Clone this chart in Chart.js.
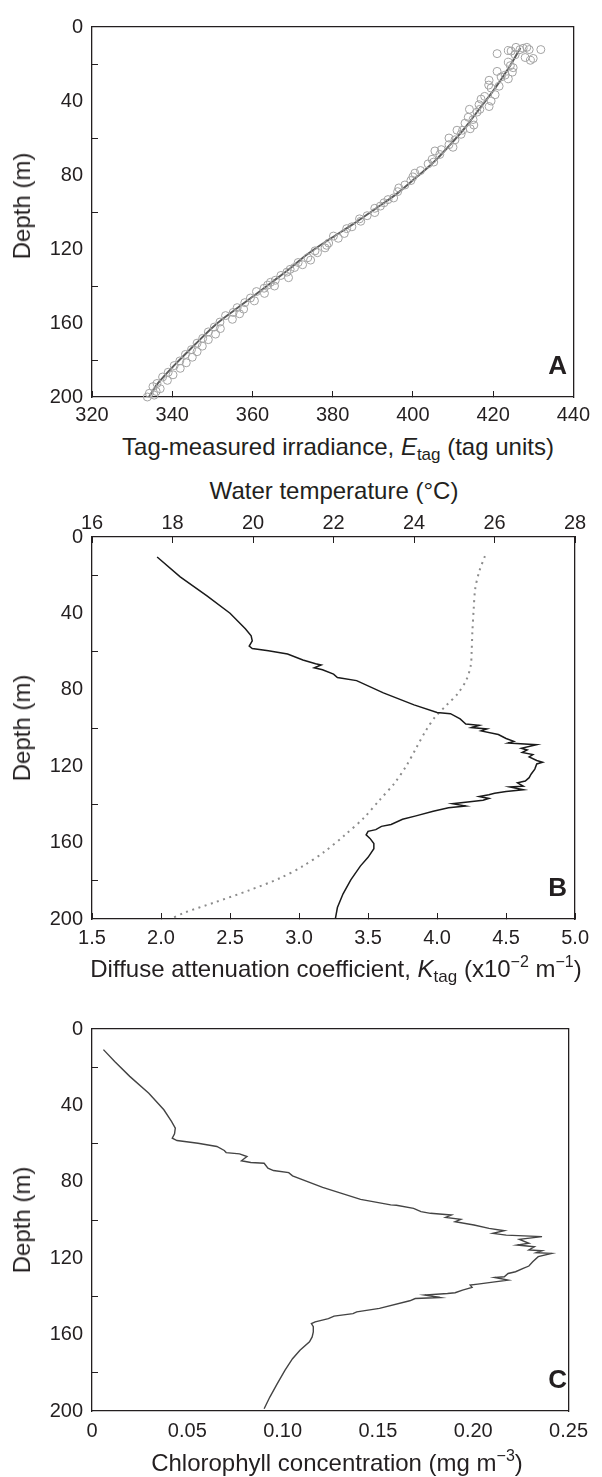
<!DOCTYPE html>
<html>
<head>
<meta charset="utf-8">
<script src="https://cdn.jsdelivr.net/npm/chart.js@4.4.0/dist/chart.umd.min.js"></script>
<style>
  body { margin: 0; background: #fff; }
  #wrap { position: relative; width: 602px; height: 1477px; font-family: "Liberation Sans", Arial, sans-serif; color: #231f20; }
  canvas { position: absolute; left: 0; }
  .ttl { position: absolute; white-space: nowrap; font-size: 24px; line-height: 24px; transform: translateX(-50%); }
  .ttl i { font-style: italic; }
  .sub { font-size: 17px; position: relative; top: 5px; }
  .sup { font-size: 16px; position: relative; top: -10px; }
  .dep { position: absolute; white-space: nowrap; font-size: 24px; line-height: 24px; transform: translate(-50%, -50%) rotate(-90deg); }
  .let { position: absolute; font-size: 26px; font-weight: bold; line-height: 26px; transform: translateX(-100%); }
</style>
</head>
<body>
<div id="wrap">
  <canvas id="chartA" width="602" height="430" style="top:0px"></canvas>
  <canvas id="chartB" width="602" height="455" style="top:505px"></canvas>
  <canvas id="chartC" width="602" height="450" style="top:1000px"></canvas>

  <div class="dep" style="left:22px; top:206px">Depth (m)</div>
  <div class="dep" style="left:22px; top:728px">Depth (m)</div>
  <div class="dep" style="left:22px; top:1220px">Depth (m)</div>

  <div class="ttl" style="left:338px; top:435px">Tag-measured irradiance, <i>E</i><span class="sub">tag</span> (tag units)</div>
  <div class="ttl" style="left:334px; top:479px">Water temperature (°C)</div>
  <div class="ttl" style="left:336px; top:957px">Diffuse attenuation coefficient, <i>K</i><span class="sub">tag</span> (x10<span class="sup">−2</span> m<span class="sup">−1</span>)</div>
  <div class="ttl" style="left:337px; top:1451px">Chlorophyll concentration (mg m<span class="sup">−3</span>)</div>

  <div class="let" style="left:567px; top:352px">A</div>
  <div class="let" style="left:567px; top:874px">B</div>
  <div class="let" style="left:567px; top:1366px">C</div>
</div>
<script>
// ---- panel A: tag irradiance vs depth ----
const obsDepth = [11, 11, 12.2, 12.2, 12.2, 12.7, 13, 11.5, 14.4, 16.5, 17, 18, 15, 19, 20.9, 22, 24, 24.4, 27, 28, 26,
  28.8, 31.4, 33, 32, 36.6, 37.5, 39, 40, 43, 42, 44.5, 44.5, 46, 48.8, 50, 53, 52, 55, 55.8, 55.8, 58, 61, 60, 63.6, 65,
  66.3, 68.9, 67, 71.5, 74, 73, 77.6, 79, 81, 83, 85.4, 87, 89, 92.4, 93.3, 95, 96.8, 98, 100.3, 102, 103.7, 105, 108, 109,
  111.6, 114.2, 113, 116.8, 118, 119.4, 122, 121, 124.7, 126, 127.3, 128.5, 130, 131, 132.5, 134.3, 135.5, 136.9, 138,
  139.5, 140, 141.2, 143, 144, 146.5, 148, 149, 151.7, 152.5, 154.3, 155, 156, 158, 159.5, 162.2, 163, 164.8, 166, 168.3,
  169, 170.9, 172.5, 174.4, 175.5, 177, 178.5, 180.5, 181.5, 183, 184.5, 186.6, 188, 189.2, 191, 192.7, 194.4, 195.5, 197,
  198, 199, 200];
const obsIrr = [425.7, 428.4, 426.7, 429, 431.9, 423.8, 424.5, 427.5, 421, 428, 430, 429.3, 425.5, 423.8, 424.3, 425, 421,
  424.8, 422, 423.8, 423, 419, 418.9, 419.5, 421.5, 420.5, 417.9, 417, 419.5, 419, 416.5, 416.7, 414.1, 416, 413.8, 415,
  415.2, 413, 414.3, 412.4, 411, 412, 410.5, 409, 409, 410, 407.1, 406.7, 405.5, 404.8, 403.8, 405.2, 401.9, 400.5, 400,
  399.5, 398, 396.5, 396.2, 395.2, 393.8, 392.8, 391.9, 390.5, 390.5, 388.6, 386.7, 387, 384.8, 383.5, 382.9, 381.4, 380.2,
  379, 378.5, 378.1, 376.2, 375.6, 373.8, 374.5, 371.4, 372.5, 370.5, 369.4, 368.6, 367.1, 369, 365.7, 364.5, 363.8, 365.5,
  362.9, 361, 363, 359.5, 360.5, 358.1, 356.2, 357.8, 355.2, 356.8, 353.3, 355, 351.9, 350.5, 352, 349, 350.8, 347.6, 349,
  346.2, 347.5, 344.8, 346.2, 343.3, 345, 341.9, 343.5, 340.5, 342, 339, 340.2, 337.6, 338.8, 336.2, 335.2, 337, 336,
  334.3, 335.5, 333.8];
const fitDepth = [11.3, 21.8, 34, 44.5, 55, 63.6, 72.4, 81, 89.8, 98.5, 107, 115, 123, 130.8, 136.9, 143.9, 152.6, 161.3,
  171.8, 182.2, 192.7, 200];
const fitIrr = [426.8, 424, 420.2, 416.5, 412.8, 409.3, 405.5, 401, 396.2, 390.5, 384.8, 379, 373.6, 369.2, 365.5, 361.2,
  355.8, 350.6, 345.6, 340.8, 336.4, 334.2];
const irrTicks = [320, 340, 360, 380, 400, 420, 440];
const irrLabels = ['320', '340', '360', '380', '400', '420', '440'];

// ---- panel B: attenuation coefficient and temperature ----
const kDepth = [10.5, 20.9, 30.8, 39.9, 48, 51.7, 54.4, 57.1, 58.4, 59.5, 61.3, 64.4, 66.4, 67, 68.5, 69.5, 71.8, 73.6,
  75.2, 81.6, 87.9, 91.9, 92.5, 95.2, 97.9, 98.6, 99.8, 100.5, 101.5, 103.4, 105.5, 107, 107.9, 108.8, 110.6, 111.5, 112.8,
  113.9, 115.1, 117, 117.9, 118.8, 121.5, 124.2, 126, 127.8, 128.7, 130.5, 130.9, 132.3, 133.2, 134.2, 135, 135.9, 136.9,
  137.8, 138.7, 139.6, 140.9, 141.8, 143.6, 146, 147.8, 150.5, 151.5, 153.2, 154.1, 155.9, 157.8, 160.5, 163.2, 167.7,
  172.3, 179.5, 186.8, 194, 199.5];
const kTag = [1.972, 2.139, 2.333, 2.5, 2.611, 2.653, 2.661, 2.639, 2.661, 2.778, 2.917, 3.028, 3.12, 3.16, 3.11, 3.17,
  3.25, 3.278, 3.417, 3.611, 3.833, 4.0, 4.097, 4.167, 4.208, 4.306, 4.25, 4.361, 4.319, 4.444, 4.5, 4.556, 4.514, 4.72,
  4.611, 4.653, 4.617, 4.694, 4.667, 4.722, 4.764, 4.722, 4.708, 4.681, 4.667, 4.639, 4.583, 4.625, 4.528, 4.625, 4.5,
  4.417, 4.375, 4.306, 4.375, 4.333, 4.222, 4.111, 4.208, 4.083, 3.972, 3.847, 3.75, 3.667, 3.597, 3.556, 3.5, 3.486,
  3.514, 3.542, 3.542, 3.5, 3.444, 3.375, 3.319, 3.278, 3.264];
const tempDepth = [10, 18, 27, 38, 49, 60, 67, 74.3, 81.6, 88, 94.3, 101.5, 110.6, 119.7, 128.7, 137.8, 146.9, 155.9, 165,
  172.3, 178.6, 185, 191.3, 196.7, 200];
const tempC = [25.76, 25.62, 25.52, 25.48, 25.45, 25.43, 25.41, 25.31, 25.1, 24.81, 24.52, 24.29, 24.05, 23.81, 23.52,
  23.14, 22.76, 22.29, 21.76, 21.24, 20.67, 19.9, 19.05, 18.29, 17.95];
const kTicks = [1.5, 2.0, 2.5, 3.0, 3.5, 4.0, 4.5, 5.0];
const kLabels = ['1.5', '2.0', '2.5', '3.0', '3.5', '4.0', '4.5', '5.0'];
const tempTicks = [16, 18, 20, 22, 24, 26, 28];
const tempLabels = ['16', '18', '20', '22', '24', '26', '28'];

// ---- panel C: chlorophyll ----
const chlDepth = [10.8, 17, 24.8, 33.6, 42.3, 48.4, 51.9, 54.9, 57.2, 58.4, 59.8, 61.5, 63.6, 64.7, 65.4, 66.8, 69, 69.9,
  70.3, 72.9, 74.1, 75.2, 76.9, 82.9, 89.2, 92.1, 92.3, 93.9, 95.6, 96.5, 97.4, 98.6, 99.7, 100.9, 102.6, 104.4, 105.6,
  107, 107.9, 108.7, 110.1, 112.2, 113.1, 114, 115.7, 116.1, 117.1, 117.5, 119.2, 121.9, 124.1, 125.3, 127.1, 128, 129.7,
  130.1, 131.5, 132.5, 133.6, 134.1, 135.3, 136.7, 138.1, 138.5, 139.3, 140.6, 141.1, 142.3, 146.3, 148.1, 149, 150.3,
  151.6, 153.3, 154.2, 155.9, 158.6, 161.2, 163.8, 168.2, 172.6, 178.7, 185.7, 192.7, 198.8];
const chlConc = [0.006, 0.0119, 0.0198, 0.0298, 0.0377, 0.0417, 0.0437, 0.0433, 0.0421, 0.0446, 0.0556, 0.0655, 0.0694,
  0.0704, 0.0774, 0.0813, 0.0784, 0.0833, 0.0903, 0.0923, 0.0952, 0.1032, 0.1052, 0.121, 0.1409, 0.1567, 0.1597, 0.1687,
  0.1726, 0.1776, 0.1885, 0.1855, 0.1935, 0.1905, 0.2004, 0.2083, 0.2163, 0.2103, 0.2173, 0.2361, 0.2242, 0.2292, 0.2232,
  0.2321, 0.2292, 0.2361, 0.2331, 0.2411, 0.2341, 0.2312, 0.2292, 0.2262, 0.2222, 0.2183, 0.2163, 0.2113, 0.2183, 0.2103,
  0.2024, 0.1984, 0.1994, 0.1944, 0.1905, 0.1865, 0.1746, 0.1825, 0.1696, 0.1667, 0.1508, 0.1389, 0.1369, 0.127, 0.124,
  0.1171, 0.1151, 0.1161, 0.1161, 0.1155, 0.1141, 0.1091, 0.1052, 0.1012, 0.0972, 0.0933, 0.0903];
const chlTicks = [0, 0.05, 0.10, 0.15, 0.20, 0.25];
const chlLabels = ['0', '0.05', '0.10', '0.15', '0.20', '0.25'];

const depthTicks = [0, 20, 40, 60, 80, 100, 120, 140, 160, 180, 200];
const depthLabels = ['0', '', '40', '', '80', '', '120', '', '160', '', '200'];

const ink = '#231f20';
const tickFont = { family: '"Liberation Sans", Arial, sans-serif', size: 20 };

function pairs(ys, xs) {
  return ys.map((d, i) => ({ x: xs[i], y: d }));
}

function xAxis(pos, vals, labels, size, pad, showTicks) {
  return {
    type: 'linear', position: pos, min: vals[0], max: vals[vals.length - 1],
    afterBuildTicks: s => { s.ticks = vals.map(v => ({ value: v })); },
    ticks: { font: tickFont, color: ink, padding: pad, maxRotation: 0, autoSkip: false, callback: (v, i) => labels[i] },
    grid: { drawOnChartArea: false, tickLength: -6, tickWidth: 1, tickColor: showTicks ? ink : 'rgba(0,0,0,0)' },
    border: { color: ink, width: 1.3 },
    afterFit: s => { s.height = size; }
  };
}

function depthAxis() {
  return {
    type: 'linear', position: 'left', reverse: true, min: 0, max: 200,
    afterBuildTicks: s => { s.ticks = depthTicks.map(v => ({ value: v })); },
    ticks: { font: tickFont, color: ink, padding: 15, autoSkip: false, callback: (v, i) => depthLabels[i] },
    grid: { drawOnChartArea: false, tickLength: -6, tickWidth: 1,
      tickColor: ctx => depthLabels[ctx.index] === '' ? ink : 'rgba(0,0,0,0)' },
    border: { color: ink, width: 1.3 },
    afterFit: s => { s.width = 92; }
  };
}

function frameAxis(pos) {
  return {
    type: 'linear', position: pos, min: 0, max: 1,
    ticks: { display: false },
    grid: { display: false, drawTicks: false },
    border: { color: ink, width: 1.3 },
    afterFit: s => { if (s.isHorizontal()) s.height = 0; else s.width = 0; }
  };
}

function baseOptions(padTop, scales) {
  return {
    responsive: false, animation: false, events: [],
    layout: { autoPadding: false, padding: { top: padTop, right: 26, left: 0, bottom: 0 } },
    plugins: { legend: { display: false }, tooltip: { enabled: false } },
    scales: scales
  };
}

// A
new Chart(document.getElementById('chartA'), {
  type: 'scatter',
  data: {
    datasets: [
      { data: pairs(obsDepth, obsIrr), pointRadius: 4, pointStyle: 'circle', borderColor: '#a3a3a3', borderWidth: 1,
        backgroundColor: 'rgba(0,0,0,0)', showLine: false, clip: false },
      { data: pairs(fitDepth, fitIrr), showLine: true, pointRadius: 0, borderColor: '#5b5b5b', borderWidth: 2,
        tension: 0.35, fill: false }
    ]
  },
  options: baseOptions(16, {
    x: xAxis('bottom', irrTicks, irrLabels, 33, 12, true),
    y: depthAxis(),
    xf: frameAxis('top'),
    yf: frameAxis('right')
  })
});

// B
new Chart(document.getElementById('chartB'), {
  type: 'scatter',
  data: {
    datasets: [
      { data: pairs(kDepth, kTag), xAxisID: 'x', showLine: true, pointRadius: 0, borderColor: '#1a1a1a',
        borderWidth: 1.5, tension: 0, fill: false },
      { data: pairs(tempDepth, tempC), xAxisID: 'xt', showLine: true, pointRadius: 0, borderColor: '#8c8c8c',
        borderWidth: 2, borderDash: [2, 4.5], tension: 0.3, fill: false }
    ]
  },
  options: baseOptions(0, {
    x: xAxis('bottom', kTicks, kLabels, 41, 13, true),
    xt: xAxis('top', tempTicks, tempLabels, 32, 8, true),
    y: depthAxis(),
    yf: frameAxis('right')
  })
});

// C
new Chart(document.getElementById('chartC'), {
  type: 'scatter',
  data: {
    datasets: [
      { data: pairs(chlDepth, chlConc), showLine: true, pointRadius: 0, borderColor: '#444444',
        borderWidth: 1.4, tension: 0, fill: false }
    ]
  },
  options: baseOptions(29, {
    x: xAxis('bottom', chlTicks, chlLabels, 39, 14, false),
    y: depthAxis(),
    xf: frameAxis('top'),
    yf: frameAxis('right')
  })
});
</script>
</body>
</html>
